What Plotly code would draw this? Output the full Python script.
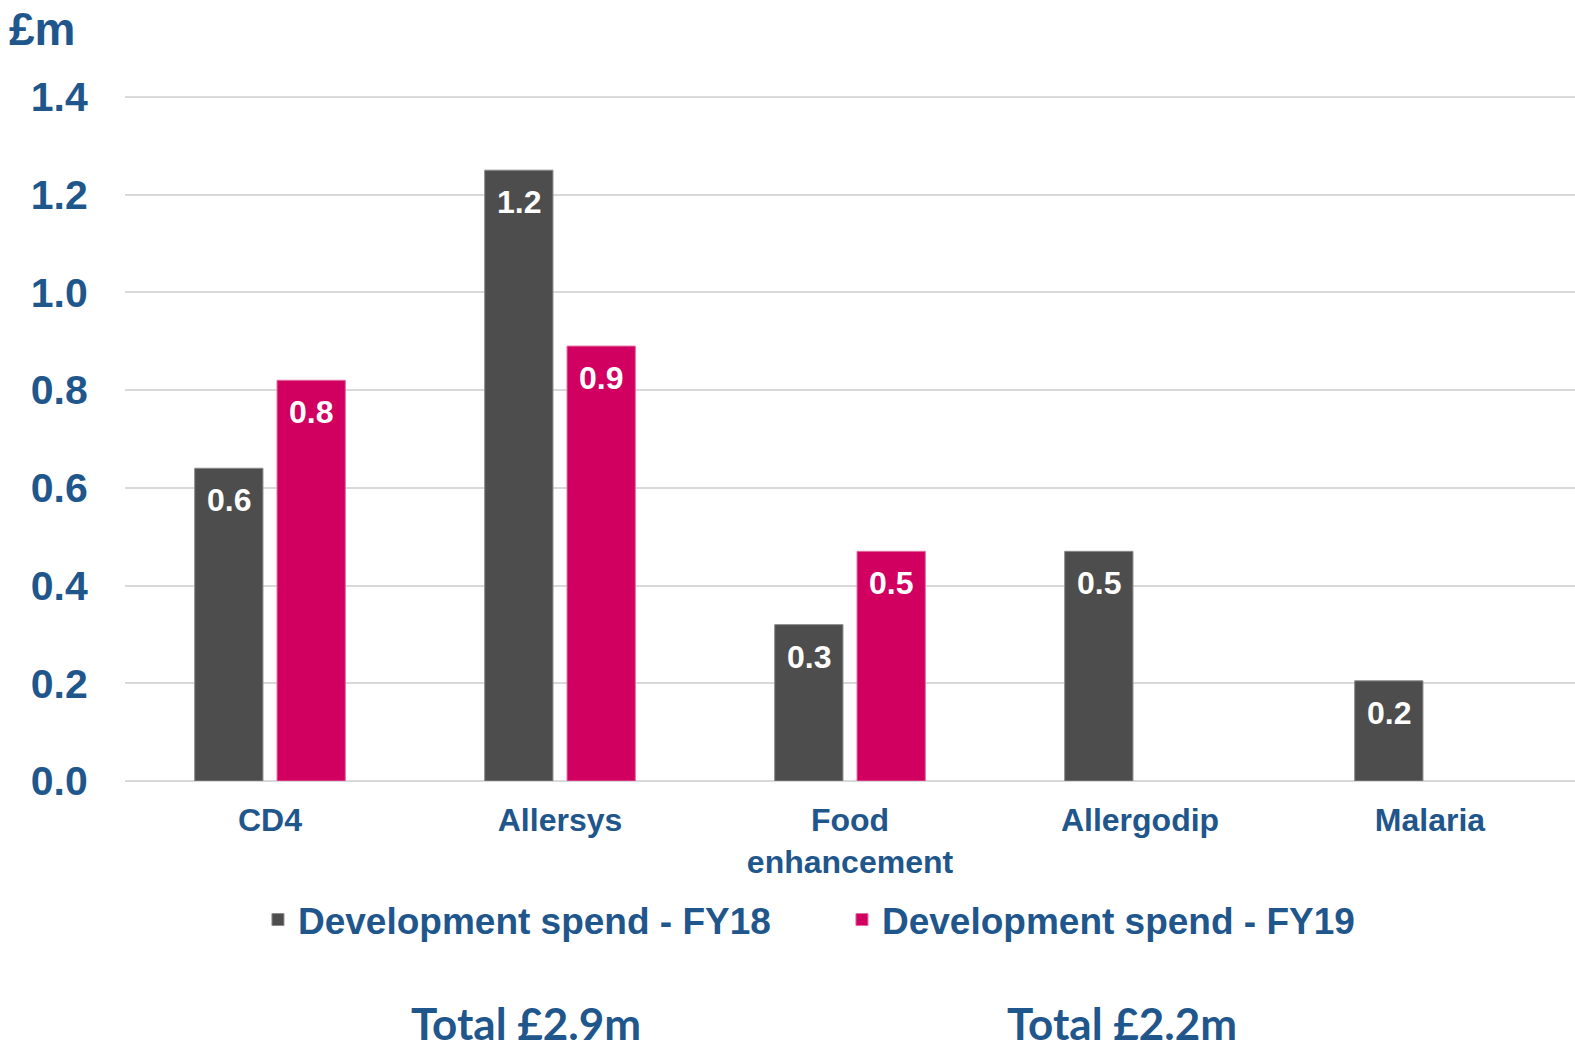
import plotly.graph_objects as go

categories = ["CD4", "Allersys", "Food<br>enhancement", "Allergodip", "Malaria"]
fy18_values = [0.64, 1.25, 0.32, 0.47, 0.205]
fy19_values = [0.82, 0.89, 0.47, None, None]
fy18_labels = ["0.6", "1.2", "0.3", "0.5", "0.2"]
fy19_labels = ["0.8", "0.9", "0.5", "", ""]
series_names = ["Development spend - FY18", "Development spend - FY19"]
y_ticks = [0.0, 0.2, 0.4, 0.6, 0.8, 1.0, 1.2, 1.4]
y_tick_labels = ["0.0", "0.2", "0.4", "0.6", "0.8", "1.0", "1.2", "1.4"]
totals = ["Total £2.9m", "Total £2.2m"]

BLUE = "#1F568C"
GRAY = "#4D4D4D"
MAGENTA = "#D10060"
FONT = "Liberation Sans, Arial, sans-serif"

fig = go.Figure()
fig.add_trace(go.Bar(
    x=categories, y=fy18_values, name=series_names[0],
    marker=dict(color=GRAY, line=dict(color="#8A8A8A", width=1)),
    hoverinfo="skip",
))
fig.add_trace(go.Bar(
    x=categories, y=fy19_values, name=series_names[1],
    marker=dict(color=MAGENTA, line=dict(color="#E46A9F", width=1)),
    hoverinfo="skip",
))

# value labels placed just inside the top of each bar
annotations = []
for values, labels, shift in ((fy18_values, fy18_labels, -41), (fy19_values, fy19_labels, 41)):
    for cat, v, lab in zip(categories, values, labels):
        if v is None or not lab:
            continue
        annotations.append(dict(
            x=cat, y=v, xref="x", yref="y", text=lab, showarrow=False,
            xanchor="center", yanchor="middle", xshift=shift, yshift=-32,
            font=dict(family=FONT, size=32, color="white", weight="bold"),
        ))

annotations += [
    dict(text="£m", xref="paper", yref="paper", x=-0.0814, y=(781 - 1) / 689,
         xanchor="left", yanchor="top", showarrow=False,
         font=dict(family=FONT, size=46, color=BLUE, weight="bold")),
    dict(text=totals[0], xref="paper", yref="paper", x=0.2766, y=(781 - 1051) / 689,
         xanchor="center", yanchor="bottom", showarrow=False,
         font=dict(family="Lato, sans-serif", size=44, color=BLUE, weight="bold")),
    dict(text=totals[1], xref="paper", yref="paper", x=0.6876, y=(781 - 1051) / 689,
         xanchor="center", yanchor="bottom", showarrow=False,
         font=dict(family="Lato, sans-serif", size=44, color=BLUE, weight="bold")),
]

fig.update_layout(
    width=1575, height=1052,
    margin=dict(l=125, r=0, t=92, b=271, autoexpand=False),
    paper_bgcolor="white", plot_bgcolor="white",
    barmode="group", bargap=0.432, bargroupgap=0.171,
    font=dict(family=FONT, color=BLUE),
    showlegend=True,
    legend=dict(
        orientation="h", x=0.0917, xanchor="left", y=(781 - 920) / 689, yanchor="middle",
        font=dict(family=FONT, size=37, color=BLUE, weight="bold"),
        bgcolor="rgba(0,0,0,0)", entrywidth=539, entrywidthmode="pixels",
    ),
    xaxis=dict(
        tickfont=dict(family=FONT, size=32, color=BLUE, weight="bold"),
        showgrid=False, showline=False, zeroline=False,
        ticks="outside", ticklen=11, tickcolor="rgba(0,0,0,0)",
    ),
    yaxis=dict(
        range=[0, 1.41], tickvals=y_ticks, ticktext=y_tick_labels,
        tickfont=dict(family=FONT, size=41, color=BLUE, weight="bold"),
        showgrid=True, gridcolor="#D9D9D9", gridwidth=2,
        zeroline=True, zerolinecolor="#D9D9D9", zerolinewidth=2,
        showline=False,
        ticks="outside", ticklen=28, tickcolor="rgba(0,0,0,0)",
    ),
    annotations=annotations,
)

fig.write_html("out.html")
